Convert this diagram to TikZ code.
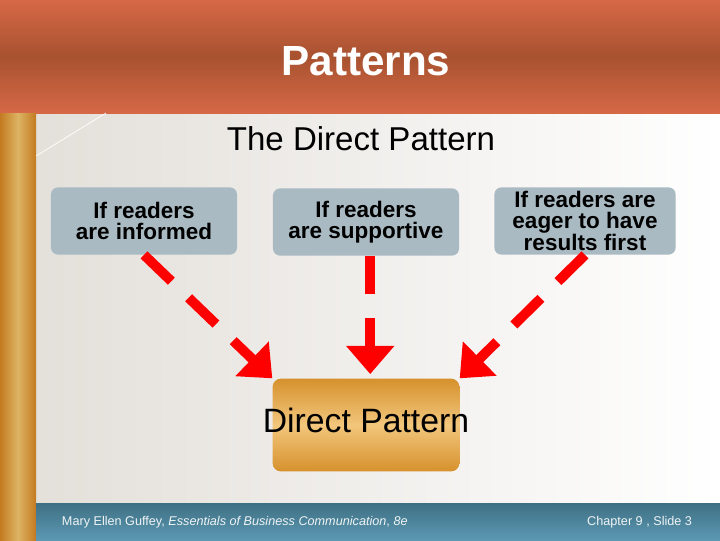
\documentclass[tikz,border=0pt]{standalone}
\usepackage{fontspec}
\setmainfont{Liberation Sans}
\usetikzlibrary{arrows.meta}
\definecolor{bandtop}{RGB}{214,104,70}
\definecolor{bandmid}{RGB}{168,82,48}
\definecolor{barside}{RGB}{196,122,32}
\definecolor{barmid}{RGB}{220,180,100}
\definecolor{condfill}{RGB}{170,186,194}
\definecolor{goldedge}{RGB}{214,145,45}
\definecolor{goldmid}{RGB}{242,198,124}
\definecolor{foottop}{RGB}{62,112,132}
\definecolor{footbot}{RGB}{92,152,178}
\definecolor{pagegray}{RGB}{226,222,216}

\begin{document}
\begin{tikzpicture}[
  x=0.025cm, y=-0.025cm,
  cond/.style={fill=condfill, rounded corners=5pt, minimum width=4.65cm,
    minimum height=1.68cm, inner sep=0pt, align=center,
    font=\fontsize{16}{14.5}\selectfont\bfseries},
  result/.style={rounded corners=6pt, minimum width=4.67cm, minimum height=2.32cm,
    inner sep=0pt, top color=goldedge, bottom color=goldedge, middle color=goldmid},
  flow/.style={draw=red, line width=7pt, dash pattern=on 27pt off 17pt,
    -{Triangle[width=33pt,length=20pt]}},
  heading/.style={anchor=base, font=\fontsize{23.5}{26}\selectfont},
  footer/.style={anchor=base, text=white!92!foottop, font=\fontsize{9}{10}\selectfont}
 ]
\useasboundingbox (0,0) rectangle (720,540);
\shade[left color=pagegray, right color=white] (0,113) rectangle (720,503);
\shade[top color=bandtop, bottom color=bandtop, middle color=bandmid] (0,0) rectangle (720,113);
\shade[left color=barside, right color=barside, middle color=barmid] (0,113) rectangle (36,540);
\shade[top color=foottop, bottom color=footbot] (36,503) rectangle (720,540);
\draw[white, line width=0.5pt] (36,156) -- (106,113);

\node[anchor=base, text=white, font=\fontsize{30}{34}\selectfont\bfseries] (title) at (366,75) {Patterns};
\node[heading] (sub) at (361,150) {The Direct Pattern};

\node[cond] (inf) at (144,221) {If readers\\are informed};
\node[cond] (sup) at (366,222) {If readers\\are supportive};
\node[cond, minimum width=4.53cm] (res) at (585,221) {If readers are\\eager to have\\results first};

\node[result] (dir) at (366,425) {};
\node[anchor=base, font=\fontsize{24}{28}\selectfont] (dirtext) at (366,432) {Direct Pattern};

\draw[flow] (inf.south) -- (dir.north west);
\draw[flow, shorten >=3pt] ([xshift=3pt]sup.south) -- ([xshift=3pt]dir.north);
\draw[flow] (res.south) -- (dir.north east);

\node[footer, anchor=base west] (book) at (57,525) {Mary Ellen Guffey, \textit{Essentials of Business Communication}, \textit{8e}};
\node[footer, anchor=base east] (slide) at (697,525) {Chapter 9 , Slide 3};
\end{tikzpicture}
\end{document}
